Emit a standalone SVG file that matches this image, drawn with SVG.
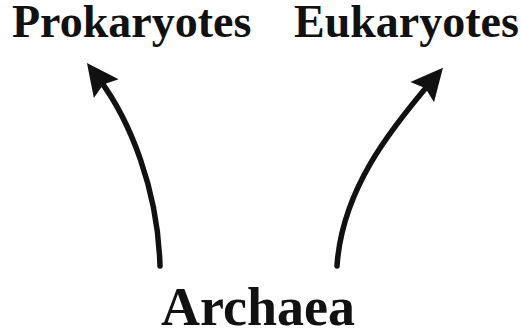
<svg xmlns="http://www.w3.org/2000/svg" width="521" height="335" viewBox="0 0 521 335">
  <style>
    .lbl { font-family: "Liberation Serif", "Times New Roman", serif; font-weight: bold; fill: #111; }
    .top { font-size: 46px; }
    .bottom { font-size: 54px; }
    .conn { fill: none; stroke: #111; stroke-width: 5.5; stroke-linecap: round; }
  </style>
  <defs>
    <marker id="head" markerUnits="userSpaceOnUse" markerWidth="40" markerHeight="40" viewBox="-15 -20 40 40" refX="0" refY="0" orient="auto" overflow="visible">
      <path d="M20,0 L-12,-15.5 L-7,0 L-12,15.5 Z" fill="#111"/>
    </marker>
  </defs>
  <rect width="521" height="335" fill="#ffffff"/>
  <g id="prokaryotes">
    <text class="lbl top" x="12" y="37">Prokaryotes</text>
  </g>
  <g id="eukaryotes">
    <text class="lbl top" x="294" y="37">Eukaryotes</text>
  </g>
  <g id="archaea">
    <text class="lbl bottom" x="161" y="325">Archaea</text>
  </g>
  <g id="connectors">
    <path class="conn" d="M160,266 C158,190 130,120 99,79" marker-end="url(#head)"/>
    <path class="conn" d="M337,266 C342,190 390,130 430,83" marker-end="url(#head)"/>
  </g>
</svg>
